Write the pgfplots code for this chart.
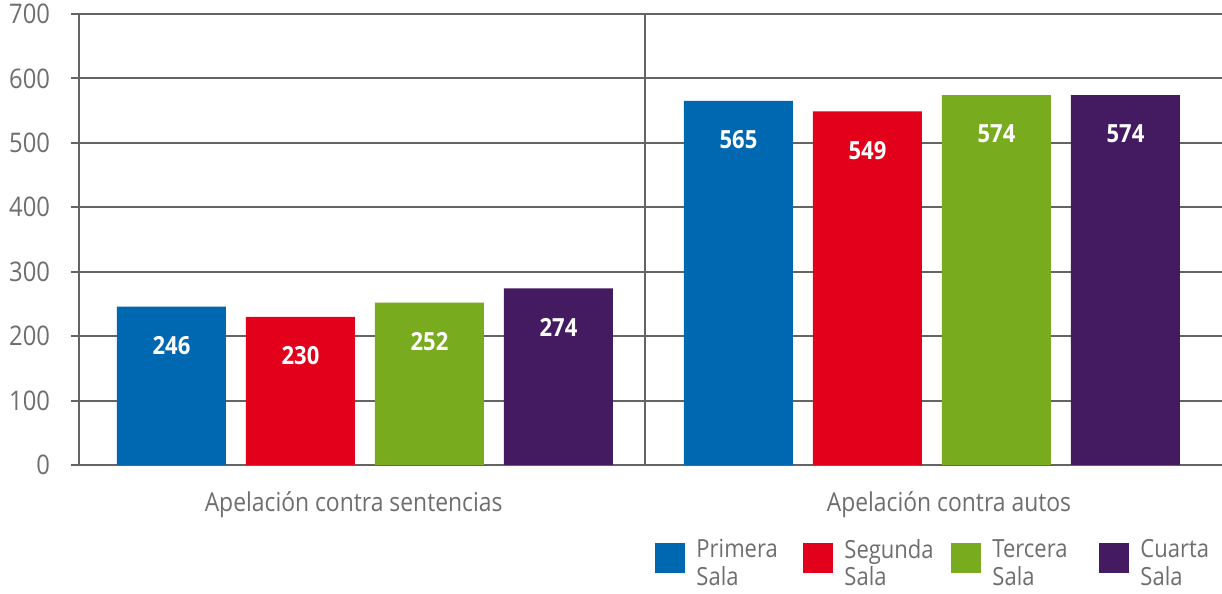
\documentclass[border=0pt]{standalone}
\usepackage{pgfplots}
\pgfplotsset{compat=1.18}
\usepackage{fontspec}
\setmainfont{Open Sans}[FakeStretch=0.88]
\definecolor{cBlue}{RGB}{0,103,177}
\definecolor{cRed}{RGB}{226,0,26}
\definecolor{cGreen}{RGB}{120,172,30}
\definecolor{cPurple}{RGB}{68,26,96}
\definecolor{lineGray}{RGB}{100,100,100}
\definecolor{textGray}{RGB}{110,110,110}
\begin{document}
\begin{tikzpicture}
\begin{axis}[
  at={(0,0)}, anchor=south west,
  scale only axis,
  width=571.5pt, height=225.5pt,
  xmin=-0.5044, xmax=1.5115,
  ymin=0, ymax=700,
  ytick={0,100,...,700},
  xtick={-0.02,1.03},
  xticklabels={Apelación contra sentencias, Apelación contra autos},
  axis lines*=left,
  axis line style={lineGray, line width=1pt},
  ymajorgrids,
  grid style={lineGray, line width=1pt},
  tick align=outside,
  major tick length=4pt,
  ytick style={lineGray, line width=1pt},
  xtick style={draw=none},
  /pgf/number format/assume math mode=true,
  ticklabel style={textGray, font=\fontsize{13}{15}\selectfont},
  yticklabel style={font=\fontsize{13.5}{15}\selectfont, xshift=-7pt},
  xticklabel style={yshift=-6pt},
  ybar=10pt, bar width=54.5pt,
  nodes near coords,
  every node near coord/.append style={white, font=\bfseries\fontsize{12.5}{14}\selectfont, anchor=center, yshift=-19.5pt},
  legend columns=4,
  legend style={at={(0.504,-0.1638)}, anchor=north west, draw=none, fill=none, inner sep=0pt,
    nodes={text width=53.5pt, align=left, inner sep=0pt, textGray, font=\fontsize{12.5}{13.8}\selectfont},
    /tikz/every odd column/.append style={column sep=5.5pt}},
  legend image code/.code={\fill[#1, draw=none] (0pt,-11.5pt) rectangle (15pt,3.5pt);},
]
\addplot[fill=cBlue, draw=none] coordinates {(0,246) (1,565)};
\addplot[fill=cRed, draw=none] coordinates {(0,230) (1,549)};
\addplot[fill=cGreen, draw=none] coordinates {(0,252) (1,574)};
\addplot[fill=cPurple, draw=none] coordinates {(0,274) (1,574)};
\legend{Primera\\Sala, Segunda\\Sala, Tercera\\Sala, Cuarta\\Sala}
\draw[lineGray, line width=1pt] (axis cs:0.494,0) -- (axis cs:0.494,700);
\end{axis}
\pgfresetboundingbox
\useasboundingbox (-39.5pt,-64.5pt) rectangle (571.5pt,232.5pt);
\end{tikzpicture}
\end{document}
